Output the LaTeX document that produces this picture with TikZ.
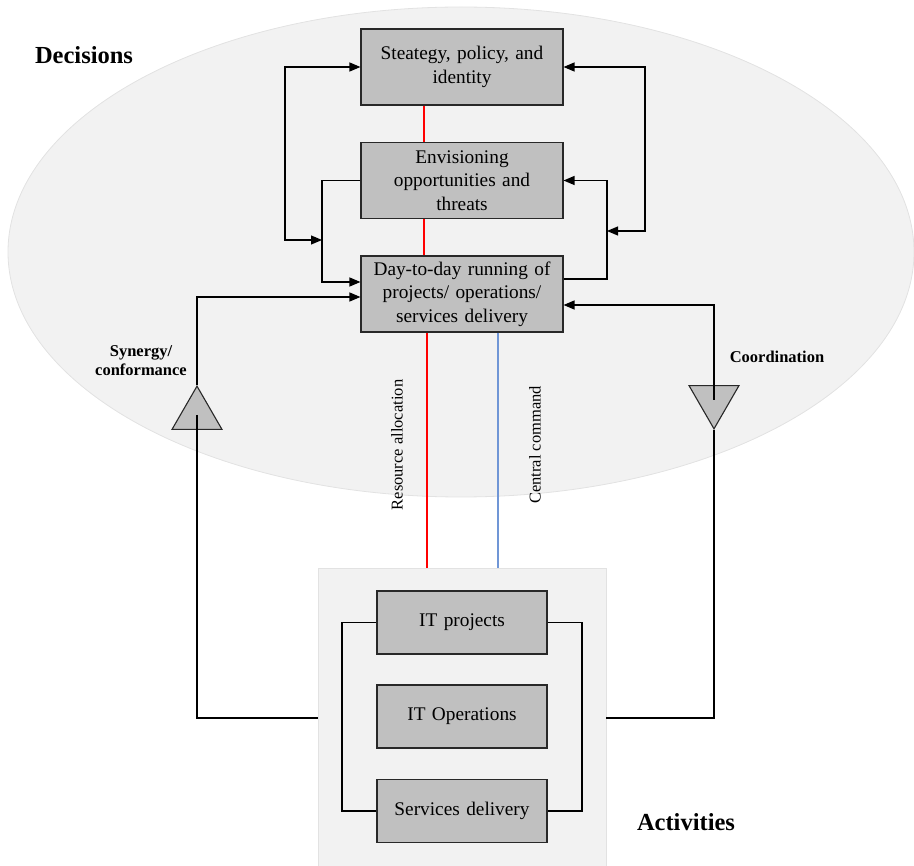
\documentclass[tikz,border=0pt]{standalone}
\usepackage{fontspec}
\setmainfont{Liberation Serif}
\usetikzlibrary{arrows.meta,shapes.geometric}

\definecolor{ovalfill}{RGB}{242,242,242}
\definecolor{ovaledge}{RGB}{226,226,226}
\definecolor{boxfill}{RGB}{192,192,192}
\definecolor{boxedge}{RGB}{40,40,40}
\definecolor{resred}{RGB}{255,0,0}
\definecolor{cmdblue}{RGB}{112,150,214}

\begin{document}
\begin{tikzpicture}[x=1pt,y=-1pt,
  stage/.style={draw=boxedge, line width=1.1pt, fill=boxfill,
    text width=196pt, inner xsep=3pt, inner ysep=0pt, minimum height=76pt,
    align=center, font=\fontsize{19.3}{23.5}\selectfont},
  task/.style={draw=boxedge, line width=1.1pt, fill=boxfill,
    text width=164pt, inner xsep=3pt, inner ysep=0pt, minimum height=63pt,
    align=center, font=\fontsize{19.3}{23}\selectfont},
  gate/.style={regular polygon, regular polygon sides=3, minimum size=57.7pt,
    inner sep=0pt, draw=boxedge, line width=1.1pt, fill=boxfill},
  link/.style={draw=black, line width=1.2pt},
  tip/.style={-{Triangle[length=11pt,width=9pt]}},
  twotip/.style={{Triangle[length=11pt,width=9pt]}-{Triangle[length=11pt,width=9pt]}},
  resline/.style={draw=resred, line width=1.2pt},
  cmdline/.style={draw=cmdblue, line width=1.2pt},
  tag/.style={align=center, inner sep=0pt, font=\fontsize{16.5}{19}\selectfont\bfseries},
  heading/.style={inner sep=0pt, font=\fontsize{24.5}{28}\selectfont\bfseries},
  flow/.style={inner sep=0pt, rotate=90, font=\fontsize{16.5}{19}\selectfont},
]
\useasboundingbox (0,0) rectangle (914,866);

% decision sphere and activity panel
\fill[ovalfill] (461,252) ellipse [x radius=453, y radius=245];
\draw[ovaledge, line width=0.8pt] (461,252) ellipse [x radius=453, y radius=245];
\node[draw=ovaledge, fill=ovalfill, line width=0.8pt, minimum width=288pt,
      minimum height=300pt, inner sep=0pt] (act) at (462,718) {};

% decision levels
\node[stage] (s1) at (462,67)    {Steategy, policy, and\\identity};
\node[stage] (s2) at (462,180.5) {Envisioning\\opportunities and\\threats};
\node[stage] (s3) at (462,294)   {Day-to-day running of\\projects/ operations/\\services delivery};

% activities
\node[task] (itp) at (462,622.5) {IT projects};
\node[task] (ito) at (462,716.5) {IT Operations};
\node[task] (svd) at (462,811)   {Services delivery};

% feedback triangles
\node[gate] (syn) at (197,415) {};
\node[gate, shape border rotate=180] (coo) at (714,400) {};

% labels
\node[heading] (dec) at (84,55) {Decisions};
\node[heading] (actl) at (686,822) {Activities};
\node[tag] (synl) at (141,361) {Synergy/\\conformance};
\node[tag] (cool) at (777,357) {Coordination};
\node[flow] (ral) at (397,445) {Resource allocation};
\node[flow] (ccl) at (535,445) {Central command};

% junction points of the loops
\coordinate (cL) at (285,240);
\coordinate (jL) at (322,240);
\coordinate (cR) at (645,231);
\coordinate (jR) at (607,231);
\coordinate (aL) at (342,716);
\coordinate (aR) at (582,716);

% vertical links between levels
\draw[resline] ([xshift=-38pt]s1.south) -- ([xshift=-38pt]s2.north);
\draw[resline] ([xshift=-38pt]s2.south) -- ([xshift=-38pt]s3.north);
\draw[resline] ([xshift=-35pt]s3.south) -- ([xshift=-35pt]act.north);
\draw[cmdline] ([xshift=36pt]s3.south) -- ([xshift=36pt]act.north);

% left loops
\draw[link, twotip] (jL) -- (cL) |- (s1.west);
\draw[link, tip] (s2.west) -| (jL) |- (s3.west |- 0,282);

% right loops
\draw[link, twotip] (s1.east) -| (cR) -- (jR);
\draw[link, tip] (s3.east |- 0,279) -| (jR) |- (s2.east);

% synergy / conformance
\draw[link, tip] (syn.corner 1) |- (s3.west |- 0,297);
\draw[link] (syn.center) |- (act.west);

% coordination
\draw[link, tip] (coo.center) |- (s3.east |- 0,305);
\draw[link] (coo.corner 1) |- (act.east);

% activity loop
\draw[link] (itp.west) -| (aL) |- (svd.west);
\draw[link] (itp.east) -| (aR) |- (svd.east);
\end{tikzpicture}
\end{document}
